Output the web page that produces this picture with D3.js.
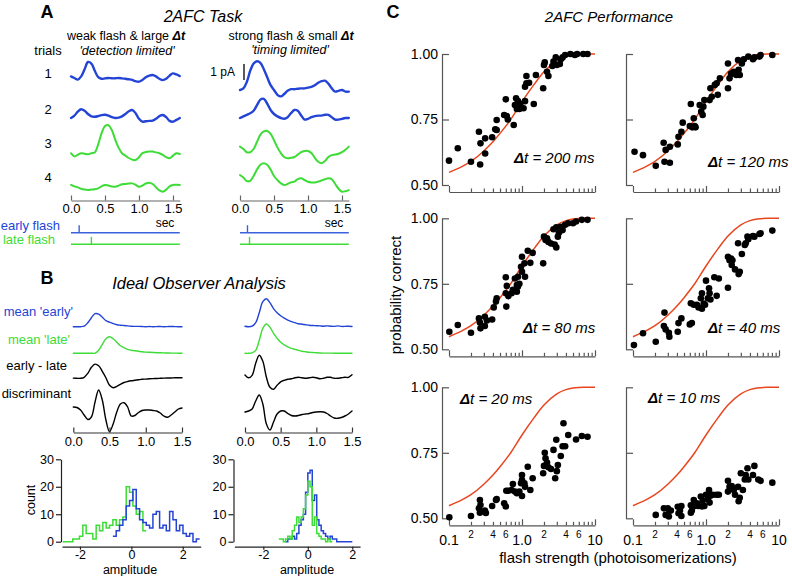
<!DOCTYPE html>
<html><head><meta charset="utf-8">
<script src="https://cdn.jsdelivr.net/npm/d3@7"></script>
<style>body{margin:0;background:#fff}svg{display:block}</style>
</head><body><svg id="c" width="792" height="576"></svg>
<script>
// ---------------- DATA ----------------
// Panel A: single-trial responses (pA), sampled every 0.05 s
const traceTimes = [0,0.05,0.1,0.15,0.2,0.25,0.3,0.35,0.4,0.45,0.5,0.55,0.6,0.65,0.7,0.75,0.8,0.85,0.9,0.95,1.0,1.05,1.1,1.15,1.2,1.25,1.3,1.35,1.4,1.45,1.5,1.55,1.6];
const weakTrial1 = [0.1,0,-0.1,0.1,0.55,1.0,0.9,0.45,0.05,-0.05,-0.02,0,-0.02,-0.02,0,-0.02,-0.05,-0.08,-0.12,-0.2,-0.23,-0.12,0.05,0.15,0.19,0.1,-0.05,-0.13,-0.05,0.15,0.29,0.22,0.12];
const weakTrial2 = [0,0.15,0.4,0.55,0.45,0.25,0.1,0.08,0.12,0.18,0.2,0.15,0.05,0,0.02,0.1,0.25,0.42,0.5,0.3,-0.05,-0.23,-0.2,-0.18,-0.17,-0.05,0.12,0.19,0.05,-0.18,-0.23,-0.12,0];
const weakTrial3 = [0.05,-0.15,-0.05,0.05,0.02,-0.02,0.05,0.1,0.6,1.3,1.75,1.8,1.5,0.9,0.4,0.05,-0.1,-0.25,-0.35,-0.38,-0.2,0.05,0.12,0.15,0.15,0.1,0.05,-0.05,-0.2,-0.27,-0.1,0.05,0];
const weakTrial4 = [0.19,0.1,0.04,-0.05,-0.1,-0.12,-0.1,-0.08,-0.02,0.1,0.19,0.15,0.1,0.08,0.15,0.23,0.25,0.28,0.29,0.2,0.08,0.15,0.28,0.33,0.25,0.05,-0.15,-0.23,-0.1,0.1,0.19,0.2,0.19];
const strongTrial1 = [0,0.1,0.5,1.2,1.65,1.8,1.7,1.3,0.8,0.3,0,-0.3,-0.4,-0.25,-0.05,0.05,0.05,0.08,0.1,0.1,0.15,0.2,0.3,0.45,0.55,0.58,0.4,0.1,-0.1,-0.05,0,-0.1,-0.1];
const strongTrial2 = [0,0.1,0.2,0.3,0.45,0.8,1.15,1.2,0.9,0.5,0.25,0.1,0,-0.05,0.05,0.3,0.5,0.45,0.15,-0.1,-0.05,0.05,0.12,0.15,0.15,0.2,0.2,0.05,-0.1,-0.1,-0.05,0,0];
const strongTrial3 = [0.4,0.25,0.05,0.05,0.25,0.7,1.15,1.35,1.38,1.2,0.8,0.35,0,-0.25,-0.33,-0.3,-0.25,-0.1,0.05,0.12,0.13,0,-0.3,-0.55,-0.64,-0.5,-0.25,-0.13,-0.1,-0.05,0.05,0.2,0.4];
const strongTrial4 = [0.56,0.4,0.18,0.2,0.5,0.9,1.2,1.3,1.2,0.9,0.5,0.25,0.05,-0.06,0,0.1,0.15,0.3,0.36,0.25,0.14,0.1,0.1,0.15,0.22,0.3,0.36,0.3,0,-0.3,-0.48,-0.45,-0.38];
const flashTimesWeak = [0.12, 0.30];   // early, late (s)
const flashTimesStrong = [0.11, 0.14];
const timeTicks = [0, 0.5, 1.0, 1.5];

// Panel B: ideal observer traces (arbitrary units), every 0.05 s
const obsTimes = [0,0.05,0.1,0.15,0.2,0.25,0.3,0.35,0.4,0.45,0.5,0.55,0.6,0.65,0.7,0.75,0.8,0.85,0.9,0.95,1.0,1.05,1.1,1.15,1.2,1.25,1.3,1.35,1.4,1.45,1.5];
const meanEarlyWeak = [0,0,0,0.05,0.4,0.9,1.3,1.25,0.95,0.6,0.45,0.3,0.2,0.15,0.12,0.08,0.05,0.03,0.03,0.02,0,0.02,0,0.01,0.02,0,0.01,0.02,0.01,0,0];
const meanLateWeak = [0,0,0,0,0,0,0.02,0.3,0.9,1.45,1.65,1.45,1.1,0.75,0.55,0.4,0.3,0.25,0.2,0.15,0.12,0.1,0.08,0.06,0.05,0.04,0.03,0.02,0.02,0.01,0];
const diffWeak = [0.02,0,0,0.1,0.5,1.1,1.42,1.25,0.7,0.05,-0.7,-0.94,-0.8,-0.6,-0.42,-0.32,-0.25,-0.2,-0.15,-0.1,-0.08,-0.05,-0.03,-0.02,0,0.02,0.03,0.03,0.05,0.05,0.05];
const discWeak = [0.1,0.05,-0.2,-0.7,-1.15,-0.9,0.6,1.8,0.8,-1.2,-2.37,-1.6,-0.4,0.4,0.53,0.1,-0.8,-0.75,-0.45,-0.25,-0.2,-0.2,-0.25,-0.3,-0.5,-0.8,-0.93,-0.7,-0.4,-0.1,0];
const meanEarlyStrong = [0.05,0,0.05,0.4,1.4,2.5,2.8,2.4,1.8,1.4,1.1,0.85,0.65,0.5,0.4,0.3,0.25,0.2,0.15,0.12,0.1,0.08,0.05,0.08,0.05,0.03,0.08,0.03,0.03,0.05,0.02];
const meanLateStrong = [0,0,0.05,0.3,1.3,2.5,2.93,2.6,2.0,1.5,1.1,0.85,0.65,0.5,0.4,0.3,0.2,0.15,0.1,0.08,0.05,0.03,0.02,0.02,0.02,0.01,0.01,0.01,0,0,0];
const diffStrong = [0.33,0.05,0.3,1.5,2.3,1.7,0.1,-0.9,-1.1,-0.7,-0.35,-0.2,-0.1,-0.05,0.05,0.1,0.05,0,0.05,0.1,0.05,-0.05,0,0.1,0.1,0,0,0.05,0.1,0.1,0.35];
const discStrong = [0,0.1,0.3,1.1,1.7,0.8,-1.2,-1.8,-1.0,-0.2,0.1,0.1,-0.15,-0.35,-0.4,-0.35,-0.25,-0.2,-0.15,-0.05,0,0.02,0,-0.15,-0.4,-0.6,-0.63,-0.55,-0.4,-0.2,0.1];

// Panel B histograms: [first bin edge, bin width], counts
const histWeakGreenBins = [-2.67, 0.13];
const histWeakGreen = [0,0,0,1,1,2,6,3,3,1,6,4,7,5,6,8,6,8,9,20,18,13,10,11,4];
const histWeakBlueBins = [-0.72, 0.13];
const histWeakBlue = [2,4,6,8,13,15,19,12,8,7,6,5,10,11,5,6,4,11,8,4,6,3,2,3,0,1];
const histStrongGreenBins = [-1.3, 0.1];
const histStrongGreen = [1,1,0,1,2,1,4,6,9,7,9,12,17,22,20,6,9,3,2,1,1,0,1,0];
const histStrongBlueBins = [-1.0, 0.1];
const histStrongBlue = [0,1,1,2,1,3,6,8,10,18,25,26,15,17,8,6,4,3,2,1,2,1,1,0,0,0,0,0,0,0];
const countTicks = [0,10,20,30];
const ampTicks = [-2,0,2];

// Panel C: performance (flash strength, probability correct)
const deltaTs = [200, 120, 80, 40, 20, 10];
const pts200 = [[0.1,0.593],[0.132,0.64],[0.2,0.589],[0.257,0.703],[0.267,0.578],[0.27,0.659],[0.313,0.62],[0.313,0.678],[0.39,0.682],[0.43,0.713],[0.45,0.748],[0.45,0.71],[0.57,0.767],[0.6,0.827],[0.62,0.763],[0.64,0.75],[0.77,0.729],[0.8,0.805],[0.83,0.831],[0.85,0.79],[0.88,0.82],[0.88,0.8],[0.92,0.79],[0.95,0.81],[1.05,0.793],[1.1,0.82],[1.1,0.875],[1.15,0.888],[1.15,0.916],[1.25,0.89],[1.45,0.809],[1.55,0.92],[1.95,0.869],[2.0,0.958],[2.05,0.968],[2.2,0.932],[2.3,0.916],[2.6,0.954],[2.7,0.971],[2.9,0.987],[3.0,0.958],[3.3,0.962],[3.4,0.98],[3.6,0.987],[3.9,0.996],[4.6,1.0],[5.3,0.996],[5.7,1.0],[6.9,1.0],[7.9,1.0]];
const pts120 = [[0.105,0.627],[0.137,0.614],[0.205,0.573],[0.263,0.661],[0.27,0.589],[0.28,0.634],[0.32,0.585],[0.32,0.646],[0.41,0.655],[0.42,0.684],[0.46,0.703],[0.48,0.738],[0.6,0.725],[0.62,0.809],[0.65,0.72],[0.68,0.755],[0.7,0.725],[0.72,0.72],[0.82,0.805],[0.86,0.78],[0.9,0.767],[0.92,0.799],[0.95,0.824],[1.12,0.824],[1.15,0.869],[1.2,0.837],[1.32,0.882],[1.4,0.888],[1.45,0.844],[1.55,0.907],[2.0,0.869],[2.0,0.964],[2.1,0.907],[2.2,0.924],[2.3,0.926],[2.4,0.932],[2.5,0.93],[2.6,0.92],[2.75,0.977],[2.8,0.94],[2.9,0.92],[3.1,0.964],[3.3,0.98],[3.8,0.99],[4.4,0.98],[4.6,0.987],[5.4,0.99],[5.6,0.996],[8.1,0.996]];
const pts80 = [[0.101,0.567],[0.132,0.593],[0.2,0.563],[0.257,0.618],[0.265,0.602],[0.27,0.58],[0.31,0.624],[0.31,0.589],[0.33,0.61],[0.39,0.614],[0.41,0.66],[0.44,0.682],[0.45,0.695],[0.6,0.775],[0.6,0.714],[0.61,0.663],[0.62,0.742],[0.65,0.703],[0.72,0.714],[0.75,0.727],[0.8,0.77],[0.85,0.745],[0.85,0.72],[0.88,0.777],[0.88,0.74],[0.92,0.75],[0.97,0.815],[1.0,0.796],[1.0,0.853],[1.08,0.828],[1.1,0.777],[1.2,0.876],[1.3,0.83],[1.4,0.868],[1.95,0.828],[2.0,0.93],[2.1,0.917],[2.2,0.924],[2.3,0.91],[2.5,0.904],[2.7,0.958],[2.8,0.9],[2.95,0.889],[2.95,0.966],[3.1,0.93],[3.2,0.945],[3.4,0.968],[3.6,0.955],[3.9,0.975],[4.3,0.981],[5.0,0.981],[5.5,0.988],[6.6,0.994],[7.9,0.994]];
const pts40 = [[0.103,0.516],[0.137,0.561],[0.205,0.529],[0.265,0.589],[0.27,0.64],[0.28,0.576],[0.31,0.563],[0.315,0.548],[0.41,0.567],[0.42,0.6],[0.46,0.618],[0.6,0.595],[0.62,0.676],[0.64,0.6],[0.68,0.67],[0.75,0.67],[0.79,0.66],[0.85,0.695],[0.88,0.655],[0.88,0.714],[0.93,0.675],[0.97,0.67],[1.0,0.762],[1.06,0.695],[1.1,0.733],[1.12,0.714],[1.15,0.69],[1.3,0.775],[1.4,0.704],[1.5,0.77],[2.0,0.735],[2.0,0.853],[2.1,0.84],[2.2,0.846],[2.25,0.822],[2.3,0.84],[2.5,0.805],[2.75,0.905],[2.8,0.787],[2.9,0.796],[3.1,0.864],[3.4,0.898],[3.5,0.905],[3.7,0.93],[3.8,0.92],[4.4,0.932],[4.6,0.93],[5.4,0.94],[5.6,0.943],[8.1,0.953]];
const pts20 = [[0.101,0.504],[0.2,0.509],[0.257,0.538],[0.265,0.57],[0.27,0.551],[0.265,0.521],[0.31,0.53],[0.32,0.52],[0.39,0.547],[0.44,0.57],[0.45,0.573],[0.57,0.557],[0.6,0.545],[0.61,0.605],[0.65,0.605],[0.72,0.608],[0.75,0.631],[0.8,0.602],[0.85,0.596],[0.92,0.602],[0.97,0.634],[1.0,0.665],[1.0,0.646],[1.0,0.585],[1.08,0.634],[1.1,0.62],[1.2,0.697],[1.3,0.608],[1.4,0.653],[1.95,0.672],[2.0,0.7],[2.05,0.75],[2.1,0.729],[2.2,0.713],[2.3,0.695],[2.5,0.688],[2.7,0.761],[2.85,0.653],[2.95,0.8],[3.0,0.68],[3.1,0.703],[3.4,0.738],[3.6,0.775],[3.7,0.863],[3.9,0.775],[4.3,0.818],[5.5,0.801],[6.6,0.814],[7.9,0.811]];
const pts10 = [[0.205,0.513],[0.265,0.538],[0.28,0.513],[0.3,0.538],[0.31,0.507],[0.315,0.529],[0.33,0.53],[0.41,0.544],[0.42,0.519],[0.44,0.53],[0.46,0.509],[0.46,0.547],[0.62,0.521],[0.64,0.53],[0.62,0.55],[0.68,0.57],[0.7,0.547],[0.75,0.557],[0.79,0.547],[0.85,0.583],[0.88,0.545],[0.9,0.567],[0.95,0.547],[1.0,0.59],[1.06,0.573],[1.1,0.608],[1.12,0.56],[1.15,0.586],[1.25,0.59],[1.4,0.59],[1.5,0.59],[2.0,0.602],[2.0,0.643],[2.1,0.62],[2.25,0.623],[2.4,0.608],[2.5,0.59],[2.75,0.62],[2.8,0.565],[2.9,0.578],[3.0,0.672],[3.2,0.608],[3.4,0.648],[3.5,0.665],[3.7,0.691],[3.8,0.648],[4.4,0.665],[4.6,0.7],[5.2,0.648],[5.6,0.643],[8.1,0.636]];
const fitStrength = [0.1,0.15,0.2,0.3,0.4,0.5,0.7,1,1.5,2,3,4,5,7,10];
const fitProb = [0.548,0.57,0.59,0.63,0.665,0.697,0.75,0.818,0.888,0.932,0.975,0.991,0.997,1.0,1.0];
const probTicks = [0.5, 0.75, 1.0];
const strengthMajor = [0.1, 1, 10];
const strengthMajorLabels = ["0.1", "1.0", "10"];
const strengthMinor = [0.2,0.3,0.4,0.5,0.6,0.7,0.8,0.9,2,3,4,5,6,7,8,9];
const strengthSmall = [0.2,0.4,0.6,2,4,6];
const strengthSmallLabels = ["2","4","6","2","4","6"];

// ---------------- DRAWING ----------------
const FONT = '"Liberation Sans", Arial, Helvetica, sans-serif';
const BLUE = "#2444d6", GREEN = "#3ddc36", RED = "#e8461e";
const svg = d3.select("#c");
svg.append("rect").attr("width",792).attr("height",576).attr("fill","#fff");

function txt(x, y, s, o = {}) {
  const t = svg.append("text").attr("x", x).attr("y", y)
    .attr("font-family", FONT).attr("font-size", o.size || 13)
    .attr("text-anchor", o.anchor || "start").attr("fill", o.color || "#000");
  if (o.italic) t.attr("font-style", "italic");
  if (o.bold) t.attr("font-weight", "bold");
  if (o.rotate) t.attr("transform", `rotate(${o.rotate},${x},${y})`);
  if (o.parts) o.parts.forEach(p => { const ts = t.append("tspan").text(p[0]); if (p[1]) ts.attr("font-weight", "bold").attr("font-style","italic"); });
  else t.text(s);
  return t;
}
function styleAxis(g, color, fs) {
  g.attr("font-family", FONT).attr("font-size", fs);
  g.selectAll("path.domain, .tick line").attr("stroke", color).attr("stroke-width", 1.2);
  g.selectAll("text").attr("fill", "#000");
}
const smooth = d3.curveCatmullRom.alpha(0.5);
function trace(xs, times, vals, baseline, unitPx, color, w) {
  const ys = d3.scaleLinear().domain([0, 1]).range([baseline, baseline - unitPx]);
  svg.append("path")
    .attr("d", d3.line().x((d, i) => xs(times[i])).y(d => ys(d)).curve(smooth)(vals))
    .attr("fill", "none").attr("stroke", color).attr("stroke-width", w)
    .attr("stroke-linejoin", "round").attr("stroke-linecap", "round");
}

// ----- Panel A -----
txt(47, 18, "A", {size: 18, bold: true, anchor: "middle"});
txt(203, 22, "2AFC Task", {size: 16, italic: true, anchor: "middle"});
txt(126, 40, "", {size: 12.5, anchor: "middle", parts: [["weak flash & large "], ["Δt", true]]});
txt(127, 54.5, "'detection limited'", {size: 12.5, italic: true, anchor: "middle"});
txt(291, 40, "", {size: 12.5, anchor: "middle", parts: [["strong flash & small "], ["Δt", true]]});
txt(290, 54, "'timing limited'", {size: 12.5, italic: true, anchor: "middle"});
txt(48, 54.5, "trials", {size: 13, anchor: "middle"});
[["1", 78], ["2", 114], ["3", 148], ["4", 182]].forEach(d => txt(48, d[1], d[0], {size: 13, anchor: "middle"}));

const PA = 16; // px per pA
const xAL = d3.scaleLinear().domain([0, 1.6]).range([71, 179.8]);
const xAR = d3.scaleLinear().domain([0, 1.6]).range([240, 348.8]);
trace(xAL, traceTimes, weakTrial1, 78, PA, BLUE, 2.4);
trace(xAL, traceTimes, weakTrial2, 118, PA, BLUE, 2.4);
trace(xAL, traceTimes, weakTrial3, 154, PA, GREEN, 2);
trace(xAL, traceTimes, weakTrial4, 188, PA, GREEN, 2);
trace(xAR, traceTimes, strongTrial1, 90, PA, BLUE, 2.4);
trace(xAR, traceTimes, strongTrial2, 118, PA, BLUE, 2.4);
trace(xAR, traceTimes, strongTrial3, 153, PA, GREEN, 2);
trace(xAR, traceTimes, strongTrial4, 184, PA, GREEN, 2);

// 1 pA scale bar
const pAScale = d3.scaleLinear().domain([0, 1]).range([80, 80 - PA]);
svg.append("line").attr("x1", 244).attr("x2", 244).attr("y1", pAScale(0)).attr("y2", pAScale(1)).attr("stroke", "#000").attr("stroke-width", 1.3);
txt(235, 76, "1 pA", {size: 12, anchor: "end"});

[xAL, xAR].forEach(xs => {
  const g = svg.append("g").attr("transform", "translate(0,200.5)")
    .call(d3.axisBottom(xs).tickValues(timeTicks).tickFormat(d3.format(".1f")).tickSize(-5).tickSizeOuter(0).tickPadding(3));
  styleAxis(g, "#666", 13);
});
txt(165, 226.5, "sec", {size: 12, anchor: "middle"});
txt(334, 226.5, "sec", {size: 12, anchor: "middle"});

// flash markers
txt(60, 229.5, "early flash", {size: 13, anchor: "end", color: BLUE});
txt(55, 243.5, "late flash", {size: 13, anchor: "end", color: GREEN});
function flash(xs, t, y, color) {
  svg.append("line").attr("x1", xs(0)).attr("x2", xs(1.6)).attr("y1", y).attr("y2", y).attr("stroke", color).attr("stroke-width", 1.4);
  svg.append("line").attr("x1", xs(t)).attr("x2", xs(t)).attr("y1", y - 7.5).attr("y2", y).attr("stroke", color).attr("stroke-width", 1.4);
}
flash(xAL, flashTimesWeak[0], 232.7, "#3b62de");
flash(xAL, flashTimesWeak[1], 244.3, GREEN);
flash(xAR, flashTimesStrong[0], 232.7, "#3b62de");
flash(xAR, flashTimesStrong[1], 244.3, GREEN);

// ----- Panel B -----
txt(47, 284, "B", {size: 18, bold: true, anchor: "middle"});
txt(199, 289, "Ideal Observer Analysis", {size: 16.5, italic: true, anchor: "middle"});
txt(73, 316, "mean 'early'", {size: 13, anchor: "end", color: BLUE});
txt(70, 344, "mean 'late'", {size: 13, anchor: "end", color: GREEN});
txt(67, 370, "early - late", {size: 13, anchor: "end"});
txt(71, 398, "discriminant", {size: 13, anchor: "end"});

const BU = 10; // px per unit
const xBL = d3.scaleLinear().domain([0, 1.5]).range([73.3, 182]);
const xBR = d3.scaleLinear().domain([0, 1.5]).range([245, 352]);
trace(xBL, obsTimes, meanEarlyWeak, 326.7, BU, BLUE, 1.4);
trace(xBL, obsTimes, meanLateWeak, 353.3, BU, GREEN, 1.4);
trace(xBL, obsTimes, diffWeak, 378.3, BU, "#000", 1.4);
trace(xBL, obsTimes, discWeak, 408, BU, "#000", 1.4);
trace(xBR, obsTimes, meanEarlyStrong, 326.7, BU, BLUE, 1.4);
trace(xBR, obsTimes, meanLateStrong, 353.3, BU, GREEN, 1.4);
trace(xBR, obsTimes, diffStrong, 378.3, BU, "#000", 1.4);
trace(xBR, obsTimes, discStrong, 412, BU, "#000", 1.4);
[xBL, xBR].forEach(xs => {
  const g = svg.append("g").attr("transform", "translate(0,432.5)")
    .call(d3.axisBottom(xs).tickValues(timeTicks).tickFormat(d3.format(".1f")).tickSize(-5).tickSizeOuter(0).tickPadding(4));
  styleAxis(g, "#333", 13);
});

// histograms
const yH = d3.scaleLinear().domain([0, 30]).range([541.7, 459.3]);
const xHL = d3.scaleLinear().domain([-2.7, 2.7]).range([62, 200.7]);
const xHR = d3.scaleLinear().domain([-3.3, 2.35]).range([234.4, 360.1]);
function hist(xs, bins, counts, color) {
  const pts = counts.map((c, i) => [bins[0] + i * bins[1], c]);
  pts.push([bins[0] + counts.length * bins[1], counts[counts.length - 1]]);
  svg.append("path").attr("d", d3.line().x(d => xs(d[0])).y(d => yH(d[1])).curve(d3.curveStepAfter)(pts))
    .attr("fill", "none").attr("stroke", color).attr("stroke-width", 1.5);
}
hist(xHL, histWeakGreenBins, histWeakGreen, GREEN);
hist(xHL, histWeakBlueBins, histWeakBlue, BLUE);
hist(xHR, histStrongBlueBins, histStrongBlue, BLUE);
hist(xHR, histStrongGreenBins, histStrongGreen, GREEN);
[[xHL, 61], [xHR, 233.5]].forEach(([xs, ax]) => {
  const gy = svg.append("g").attr("transform", `translate(${ax},0)`)
    .call(d3.axisLeft(yH).tickValues(countTicks).tickSize(5).tickSizeOuter(0).tickPadding(2));
  styleAxis(gy, "#222", 12.5);
  const gx = svg.append("g").attr("transform", "translate(0,546.7)")
    .call(d3.axisBottom(xs).tickValues(ampTicks).tickFormat(d => d < 0 ? "-" + Math.abs(d) : String(d)).tickSize(3).tickSizeOuter(0).tickPadding(0));
  styleAxis(gx, "#222", 12.5);
});
txt(35, 500, "count", {size: 12.5, anchor: "middle", rotate: -90});
txt(130, 574, "amplitude", {size: 12.5, anchor: "middle"});
txt(307, 574, "amplitude", {size: 12.5, anchor: "middle"});

// ----- Panel C -----
txt(393, 18, "C", {size: 18, bold: true, anchor: "middle"});
txt(609, 21.5, "2AFC Performance", {size: 15, italic: true, anchor: "middle"});
txt(401, 295, "probability correct", {size: 15, anchor: "middle", rotate: -90});
txt(618, 563, "flash strength (photoisomerizations)", {size: 15, anchor: "middle"});

const cols = [{x0: 449, x1: 595, ax: 442}, {x0: 633, x1: 779, ax: 626}];
const rows = [{yTop: 54, yBot: 185}, {yTop: 218.3, yBot: 349.3}, {yTop: 387.3, yBot: 518.3}];
const cPanels = [pts200, pts120, pts80, pts40, pts20, pts10];
const labelPos = [[514, 163], [708, 166.7], [523, 333.3], [708, 333.3], [460, 404], [648, 403]];

cPanels.forEach((pts, k) => {
  const c = cols[k % 2], r = rows[Math.floor(k / 2)];
  const xs = d3.scaleLog().domain([0.1, 10]).range([c.x0, c.x1]);
  const ys = d3.scaleLinear().domain([0.5, 1.0]).range([r.yBot, r.yTop]);
  // y axis
  const gy = svg.append("g").attr("transform", `translate(${c.ax},0)`)
    .call(d3.axisLeft(ys).tickValues(probTicks).tickSize(-(c.x0 - c.ax)).tickSizeOuter(0).tickPadding(4)
      .tickFormat(k % 2 === 0 ? d3.format(".2f") : () => ""));
  styleAxis(gy, "#555", 14);
  // x axis
  const xAxisY = r.yBot + 7;
  const gx = svg.append("g").attr("transform", `translate(0,${xAxisY})`)
    .call(d3.axisBottom(xs).tickValues(strengthMajor.concat(strengthMinor)).tickSize(-3.5).tickSizeOuter(0).tickFormat(() => ""));
  styleAxis(gx, "#555", 10);
  gx.selectAll(".tick line").filter(d => strengthMajor.includes(d)).attr("y2", -6);
  if (k >= 4) {
    strengthMajor.forEach((v, i) => txt(xs(v), xAxisY + 20, strengthMajorLabels[i], {size: 14, anchor: "middle"}));
    strengthSmall.forEach((v, i) => txt(xs(v), xAxisY + 12.5, strengthSmallLabels[i], {size: 10, anchor: "middle"}));
  }
  // fit curve
  svg.append("path").attr("d", d3.line().x((d, i) => xs(fitStrength[i])).y(d => ys(d)).curve(d3.curveMonotoneX)(fitProb))
    .attr("fill", "none").attr("stroke", RED).attr("stroke-width", 1.5);
  // points
  svg.append("g").selectAll("circle").data(pts).join("circle")
    .attr("cx", d => xs(d[0])).attr("cy", d => ys(d[1])).attr("r", 3.3).attr("fill", "#000");
  // label
  txt(labelPos[k][0], labelPos[k][1], "", {size: 15, italic: true, parts: [["Δ", true], ["t = " + deltaTs[k] + " ms"]]});
});
</script></body></html>
